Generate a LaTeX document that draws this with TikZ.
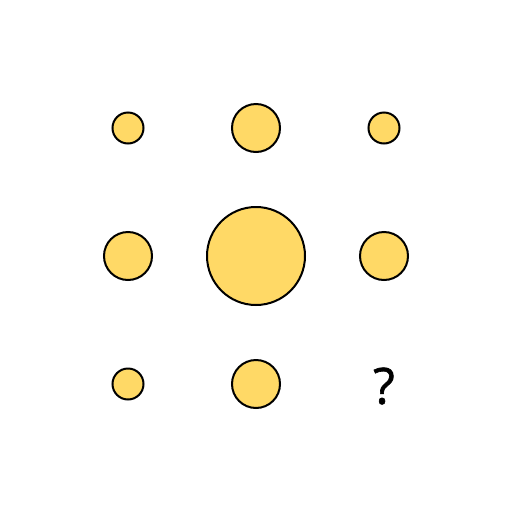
\documentclass[tikz,border=0pt]{standalone}
\usepackage{fontspec}
\setmainfont{Open Sans}
\newfontfamily\qfont[FakeBold=1.2]{Open Sans}
\definecolor{fillyel}{HTML}{FFD966}
\begin{document}
\begin{tikzpicture}[x=1pt,y=-1pt,
  dot/.style={circle,draw=black,line width=2pt,fill=fillyel,inner sep=0pt,minimum size=#1}]
\useasboundingbox (0,0) rectangle (512,512);
\node[dot=31pt] (a) at (128,128) {};
\node[dot=48pt] (b) at (256,128) {};
\node[dot=31pt] (c) at (384,128) {};
\node[dot=48pt] (d) at (128,256) {};
\node[dot=98pt] (e) at (256,256) {};
\node[dot=48pt] (f) at (384,256) {};
\node[dot=31pt] (g) at (128,384) {};
\node[dot=48pt] (h) at (256,384) {};
\node[font=\qfont\fontsize{50}{50}\selectfont] (q) at (384,386) {?};
\end{tikzpicture}
\end{document}
